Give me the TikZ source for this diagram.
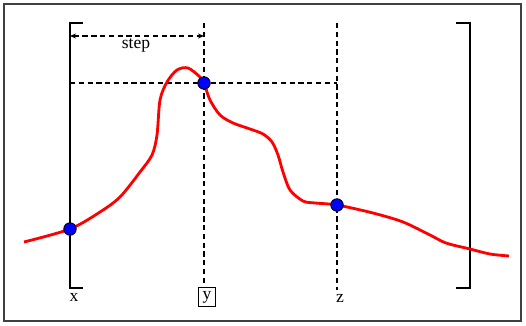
\documentclass[tikz,border=0pt]{standalone}
\usepackage{fontspec}
\setmainfont{Liberation Serif}
\usetikzlibrary{arrows.meta, positioning}

\begin{document}
\begin{tikzpicture}[x=0.02cm, y=-0.02cm,
    dot/.style={circle, draw=black, line width=0.5pt, fill=blue, inner sep=0pt, minimum size=0.25cm},
    guide/.style={dash pattern=on 3pt off 2pt, line width=0.6pt},
    rail/.style={line width=0.7pt}]
  \useasboundingbox (0,0) rectangle (526,325);
  \draw[black!75, line width=1pt] (4,4) rectangle (521,321);

  % brackets
  \draw[rail] (83,23) -- (70,23) -- (70,288) -- (83,288);
  \draw[rail] (456,23) -- (470,23) -- (470,288) -- (456,288);

  % labels below
  \node[font=\normalsize, inner sep=1pt] (lx) at (74,297) {x};
  \node[draw, line width=0.6pt, inner sep=2pt, minimum width=0.33cm] (ly) at (207,297) {y};
  \node[font=\normalsize, inner sep=1pt] (lz) at (340,298) {z};

  % guide lines
  \coordinate (ytop) at (204,23);
  \coordinate (ztop) at (337,23);
  \coordinate (zbot) at (337,290);
  \coordinate (hl) at (70,83);
  \coordinate (hr) at (337,83);
  \draw[guide] (ytop) -- (ytop |- ly.north);
  \draw[guide] (ztop) -- (zbot);
  \draw[guide] (hl) -- (hr);

  % step
  \coordinate (sl) at (70,36);
  \coordinate (sr) at (204,36);
  \draw[guide, {Stealth[length=1.2mm, width=1mm]}-{Stealth[length=1.2mm, width=1mm]}] (sl) -- (sr);
  \node (step) at (136,45) {step};

  % curve
  \draw[red, line width=1.6pt] plot[smooth, tension=0.5] coordinates {
    (24,242) (70,229) (100,212) (120,197) (140,172) (152,155) (157,135)
    (160,100) (167,82) (177,70) (188,68) (200,77) (204,83) (210,100)
    (220,115) (233,123) (250,129) (263,134) (272,142) (278,155) (283,172)
    (290,190) (303,201) (315,203) (337,205) (373,213) (403,222) (430,235)
    (446,243) (470,249) (490,254) (509,256)};

  \node[dot] (px) at (70,229) {};
  \node[dot] (py) at (204,83) {};
  \node[dot] (pz) at (337,205) {};
\end{tikzpicture}
\end{document}
